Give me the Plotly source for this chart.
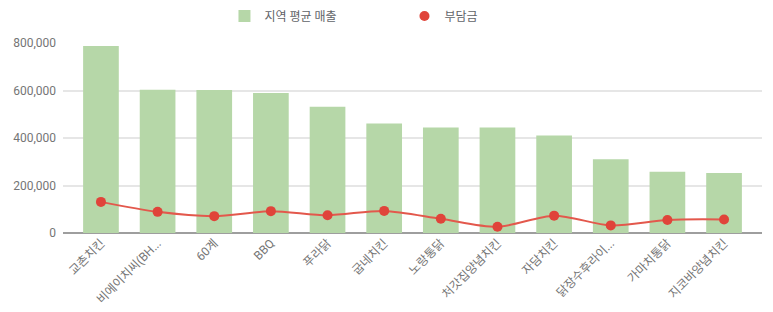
import plotly.graph_objects as go

categories = ["교촌치킨", "비에이치씨(BH...", "60계", "BBQ", "푸라닭", "굽네치킨", "노랑통닭",
              "처갓집양념치킨", "자담치킨", "닭장수후라이...", "가마치통닭", "지코바양념치킨"]
sales = [787000, 603000, 602000, 590000, 532000, 461000, 444000, 444000, 411000, 311000, 258000, 253000]
burden = [131000, 89000, 71000, 92000, 75000, 93000, 60000, 26000, 73000, 32000, 55000, 57000]
y_ticks = [0, 200000, 400000, 600000, 800000]
y_tick_labels = ["0", "200,000", "400,000", "600,000", "800,000"]

FONT = "Roboto, 'Noto Sans CJK KR', sans-serif"
xs = list(range(len(categories)))

fig = go.Figure()
fig.add_trace(go.Bar(
    x=xs, y=sales, name="지역 평균 매출",
    marker=dict(color="#b6d7a8", line=dict(width=0)), width=0.63,
))
fig.add_trace(go.Scatter(
    x=xs, y=burden, name="부담금", mode="lines", showlegend=False,
    line=dict(color="#e3584c", width=2, shape="spline", smoothing=0.8),
))
fig.add_trace(go.Scatter(
    x=xs, y=burden, name="부담금", mode="markers",
    marker=dict(color="#e0443a", size=10),
))

fig.update_layout(
    width=773, height=312,
    margin=dict(l=63, r=11, t=43, b=79),
    paper_bgcolor="white", plot_bgcolor="white",
    font=dict(family=FONT, size=12, color="#757575"),
    showlegend=True,
    legend=dict(orientation="h", x=0.231, xanchor="left", y=0.995, yanchor="top",
                yref="container", entrywidth=135, entrywidthmode="pixels",
                font=dict(size=12, color="#5f6368"), itemclick=False),
    xaxis=dict(
        range=[-0.67, 11.67], automargin=False,
        tickmode="array", tickvals=xs, ticktext=categories,
        tickangle=-45, showgrid=False, zeroline=False, showline=False,
        tickfont=dict(size=12, color="#757575"), ticks="",
    ),
    yaxis=dict(
        range=[0, 800000], automargin=False,
        tickmode="array", tickvals=y_ticks, ticktext=y_tick_labels,
        showgrid=True, gridcolor="#e6e6e6", gridwidth=1.5,
        zeroline=True, zerolinecolor="#9e9e9e", zerolinewidth=2,
        tickfont=dict(size=12, color="#757575"), ticks="", ticklabelstandoff=6,
    ),
)

fig.write_html("out.html")
